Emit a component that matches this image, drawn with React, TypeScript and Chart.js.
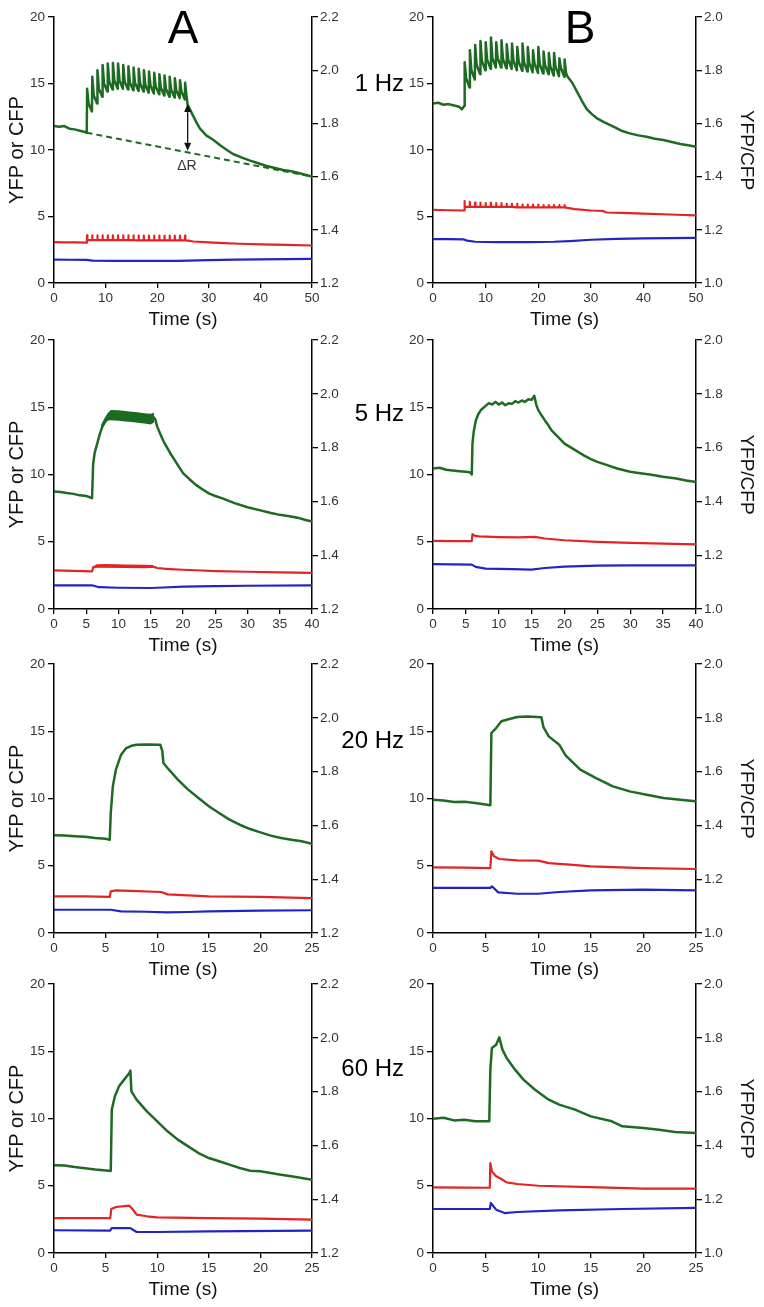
import React, { useEffect, useRef } from "react";
import { Chart, registerables } from "chart.js";

Chart.register(...registerables);

type Pt = [number, number];

// ---------- tick labels ----------
const X_TICKS_50 = [0, 10, 20, 30, 40, 50];
const X_TICKS_40 = [0, 5, 10, 15, 20, 25, 30, 35, 40];
const X_TICKS_25 = [0, 5, 10, 15, 20, 25];
const LEFT_TICKS = [0, 5, 10, 15, 20];
const RATIO_TICKS_A = [1.2, 1.4, 1.6, 1.8, 2.0, 2.2];
const RATIO_TICKS_B = [1.0, 1.2, 1.4, 1.6, 1.8, 2.0];
const FREQ_LABELS = ["1 Hz", "5 Hz", "20 Hz", "60 Hz"];
const COLUMN_LETTERS = ["A", "B"];

// ---------- data: green = YFP/CFP ratio (right axis), red = YFP, blue = CFP (left axis) ----------
// Row 1 (1 Hz)
const A1_GREEN: Pt[] = [
  [0, 1.79], [1, 1.7875], [2, 1.79], [3, 1.78], [4, 1.7775], [5, 1.7725], [6, 1.7675], [6.35, 1.765],
  [6.42, 1.93], [6.7, 1.875], [7.35, 1.845],
  [7.42, 1.975], [7.7, 1.905], [8.35, 1.875],
  [8.42, 2.0], [8.7, 1.93], [9.35, 1.9],
  [9.42, 2.02], [9.7, 1.95], [10.35, 1.92],
  [10.42, 2.025], [10.7, 1.9575], [11.35, 1.9275],
  [11.42, 2.0275], [11.7, 1.96], [12.35, 1.93],
  [12.42, 2.025], [12.7, 1.96], [13.35, 1.93],
  [13.42, 2.02], [13.7, 1.9575], [14.35, 1.9275],
  [14.42, 2.015], [14.7, 1.955], [15.35, 1.925],
  [15.42, 2.01], [15.7, 1.9525], [16.35, 1.9225],
  [16.42, 2.005], [16.7, 1.95], [17.35, 1.92],
  [17.42, 2.0], [17.7, 1.945], [18.35, 1.915],
  [18.42, 1.995], [18.7, 1.9425], [19.35, 1.9125],
  [19.42, 1.99], [19.7, 1.94], [20.35, 1.91],
  [20.42, 1.985], [20.7, 1.935], [21.35, 1.905],
  [21.42, 1.98], [21.7, 1.93], [22.35, 1.9],
  [22.42, 1.975], [22.7, 1.9275], [23.35, 1.8975],
  [23.42, 1.97], [23.7, 1.925], [24.35, 1.895],
  [24.42, 1.9625], [24.7, 1.92], [25.35, 1.89],
  [25.42, 1.9525], [25.7, 1.9],
  [25.9, 1.87], [26.8, 1.835], [27.7, 1.8], [28.3, 1.78], [29.5, 1.755], [30.9, 1.7375], [32.2, 1.7175],
  [33.5, 1.7], [34.7, 1.685], [36.3, 1.6725], [38, 1.66], [39.6, 1.65], [41.2, 1.64], [42.8, 1.6325],
  [44.4, 1.625], [46, 1.62], [47.6, 1.6125], [49, 1.605], [50, 1.6],
];
const A1_RED: Pt[] = [
  [0, 3.08], [2, 3.06], [4, 3.05], [6.3, 3.03],
  [6.38, 3.22], [6.4, 3.58], [6.46, 3.22], [7.38, 3.22], [7.4, 3.58], [7.46, 3.22],
  [8.38, 3.22], [8.4, 3.58], [8.46, 3.22], [9.38, 3.22], [9.4, 3.58], [9.46, 3.22],
  [10.38, 3.22], [10.4, 3.58], [10.46, 3.22], [11.38, 3.22], [11.4, 3.58], [11.46, 3.22],
  [12.38, 3.22], [12.4, 3.58], [12.46, 3.22], [13.38, 3.22], [13.4, 3.58], [13.46, 3.22],
  [14.38, 3.22], [14.4, 3.58], [14.46, 3.22], [15.38, 3.22], [15.4, 3.58], [15.46, 3.22],
  [16.38, 3.2], [16.4, 3.56], [16.46, 3.2], [17.38, 3.2], [17.4, 3.56], [17.46, 3.2],
  [18.38, 3.2], [18.4, 3.56], [18.46, 3.2], [19.38, 3.2], [19.4, 3.56], [19.46, 3.2],
  [20.38, 3.2], [20.4, 3.56], [20.46, 3.2], [21.38, 3.2], [21.4, 3.56], [21.46, 3.2],
  [22.38, 3.2], [22.4, 3.56], [22.46, 3.2], [23.38, 3.2], [23.4, 3.56], [23.46, 3.2],
  [24.38, 3.2], [24.4, 3.56], [24.46, 3.2], [25.38, 3.2], [25.4, 3.56], [25.46, 3.2],
  [26, 3.18], [27, 3.12], [30, 3.05], [33, 3.0], [36, 2.95], [40, 2.9], [45, 2.87], [50, 2.82],
];
const A1_BLUE: Pt[] = [
  [0, 1.76], [3, 1.75], [6.3, 1.74], [7.5, 1.68], [12, 1.66], [18, 1.66], [24, 1.67], [26, 1.68],
  [30, 1.72], [35, 1.76], [40, 1.78], [45, 1.8], [50, 1.82],
];
const B1_GREEN: Pt[] = [
  [0, 1.675], [1, 1.6775], [2, 1.67], [3, 1.6725], [4, 1.6675], [5, 1.6625], [5.5, 1.6525], [5.9, 1.665],
  [6.02, 1.83], [6.3, 1.77], [6.95, 1.735],
  [7.02, 1.875], [7.3, 1.8], [7.95, 1.765],
  [8.02, 1.895], [8.3, 1.82], [8.95, 1.785],
  [9.02, 1.91], [9.3, 1.835], [9.95, 1.8],
  [10.02, 1.905], [10.3, 1.84], [10.95, 1.805],
  [11.02, 1.9225], [11.3, 1.845], [11.95, 1.81],
  [12.02, 1.905], [12.3, 1.845], [12.95, 1.81],
  [13.02, 1.9125], [13.3, 1.8425], [13.95, 1.8075],
  [14.02, 1.8975], [14.3, 1.84], [14.95, 1.805],
  [15.02, 1.9], [15.3, 1.835], [15.95, 1.8],
  [16.02, 1.8875], [16.3, 1.8325], [16.95, 1.7975],
  [17.02, 1.9], [17.3, 1.83], [17.95, 1.795],
  [18.02, 1.8875], [18.3, 1.8275], [18.95, 1.7925],
  [19.02, 1.875], [19.3, 1.825], [19.95, 1.79],
  [20.02, 1.8875], [20.3, 1.8225], [20.95, 1.7875],
  [21.02, 1.87], [21.3, 1.82], [21.95, 1.785],
  [22.02, 1.865], [22.3, 1.815], [22.95, 1.78],
  [23.02, 1.865], [23.3, 1.8125], [23.95, 1.7775],
  [24.02, 1.845], [24.3, 1.81], [24.95, 1.775],
  [25.02, 1.84], [25.3, 1.79],
  [25.6, 1.775], [26.5, 1.752], [27.5, 1.715], [28.3, 1.685], [29.2, 1.655], [30.2, 1.635], [31.1, 1.62],
  [32.5, 1.605], [34.3, 1.5875], [35.8, 1.5725], [37.4, 1.5625], [39, 1.555], [40.6, 1.55], [42.2, 1.5425],
  [43.8, 1.5375], [45.4, 1.53], [47, 1.5225], [48.5, 1.5175], [50, 1.5125],
];
const B1_RED: Pt[] = [
  [0, 5.5], [3, 5.47], [5.9, 5.45],
  [5.98, 5.72], [6.0, 6.15], [6.06, 5.72], [6.98, 5.72], [7.0, 6.1], [7.06, 5.72],
  [7.98, 5.72], [8.0, 6.05], [8.06, 5.72], [8.98, 5.72], [9.0, 6.05], [9.06, 5.72],
  [9.98, 5.72], [10.0, 6.0], [10.06, 5.72], [10.98, 5.72], [11.0, 6.05], [11.06, 5.72],
  [11.98, 5.72], [12.0, 6.0], [12.06, 5.72], [12.98, 5.72], [13.0, 6.0], [13.06, 5.72],
  [13.98, 5.72], [14.0, 5.95], [14.06, 5.72], [14.98, 5.72], [15.0, 5.95], [15.06, 5.72],
  [15.98, 5.68], [16.0, 5.95], [16.06, 5.68], [16.98, 5.68], [17.0, 5.9], [17.06, 5.68],
  [17.98, 5.68], [18.0, 5.9], [18.06, 5.68], [18.98, 5.68], [19.0, 5.9], [19.06, 5.68],
  [19.98, 5.68], [20.0, 5.9], [20.06, 5.68], [20.98, 5.68], [21.0, 5.85], [21.06, 5.68],
  [21.98, 5.68], [22.0, 5.85], [22.06, 5.68], [22.98, 5.68], [23.0, 5.85], [23.06, 5.68],
  [23.98, 5.68], [24.0, 5.85], [24.06, 5.68], [24.98, 5.68], [25.0, 5.85], [25.06, 5.68],
  [25.5, 5.65], [27, 5.55], [30, 5.45], [32.3, 5.42], [33, 5.3], [36, 5.27], [40, 5.22], [45, 5.15], [50, 5.08],
];
const B1_BLUE: Pt[] = [
  [0, 3.3], [3, 3.3], [5.8, 3.28], [6.5, 3.18], [8, 3.1], [12, 3.08], [18, 3.08], [23, 3.1], [26, 3.15],
  [30, 3.25], [35, 3.32], [40, 3.35], [45, 3.38], [50, 3.4],
];

// Row 2 (5 Hz)
const A2_GREEN: Pt[] = [
  [0, 1.637], [1, 1.635], [2, 1.631], [3, 1.628], [4, 1.6225], [5, 1.62], [5.9, 1.612],
  [6.07, 1.74], [6.3, 1.78], [6.7, 1.815], [7.1, 1.85], [7.5, 1.878], [8.0, 1.9], [8.5, 1.918],
  [9, 1.921], [10, 1.919], [11, 1.916], [12, 1.914], [13, 1.911], [14, 1.909], [15, 1.906], [15.5, 1.912],
  [15.7, 1.905], [16, 1.878], [16.5, 1.85], [17, 1.8225], [18, 1.78], [19, 1.742], [20, 1.705],
  [21, 1.6825], [22, 1.6615], [23, 1.645], [24, 1.63], [25, 1.62], [26, 1.612], [28, 1.5935],
  [30, 1.5785], [32, 1.5665], [33.5, 1.5575], [35, 1.55], [36.5, 1.545], [38, 1.538], [39, 1.531], [40, 1.525],
];
// noisy band during 5 Hz stimulation (upper / lower edges)
const A2_GREEN_BAND_TOP: Pt[] = [
  [7.3, 1.885], [7.8, 1.908], [8.3, 1.928], [8.8, 1.94], [10, 1.9385], [11, 1.936], [12, 1.933],
  [13, 1.931], [14, 1.928], [15, 1.926], [15.5, 1.93],
];
const A2_GREEN_BAND_BOTTOM: Pt[] = [
  [7.3, 1.862], [7.8, 1.885], [8.3, 1.9], [8.8, 1.902], [10, 1.9], [11, 1.897], [12, 1.895],
  [13, 1.892], [14, 1.89], [15, 1.886], [15.5, 1.893],
];
const A2_RED: Pt[] = [
  [0, 2.87], [3, 2.84], [5.9, 2.8], [6.1, 3.12], [7, 3.2], [10, 3.18], [13, 3.16], [15.4, 3.15],
  [16, 3.05], [17, 3.0], [18, 2.97], [20, 2.92], [22, 2.88], [25, 2.82], [30, 2.77], [35, 2.72], [40, 2.68],
];
const A2_RED_BAND_TOP: Pt[] = [[6.1, 3.16], [6.6, 3.33], [8, 3.34], [11, 3.31], [14, 3.29], [15.4, 3.28]];
const A2_RED_BAND_BOTTOM: Pt[] = [[6.1, 3.05], [6.6, 3.06], [8, 3.07], [11, 3.05], [14, 3.03], [15.4, 3.05]];
const A2_BLUE: Pt[] = [
  [0, 1.76], [3, 1.76], [6, 1.75], [7, 1.62], [10, 1.58], [15, 1.56], [17, 1.6], [20, 1.66],
  [25, 1.7], [30, 1.73], [40, 1.75],
];
const B2_GREEN: Pt[] = [
  [0, 1.5225], [1, 1.525], [2, 1.5175], [3, 1.515], [4, 1.5125], [5, 1.51], [5.7, 1.5075], [5.9, 1.5],
  [6.0, 1.615], [6.2, 1.66], [6.5, 1.7], [6.9, 1.725], [7.3, 1.74], [8, 1.755], [8.5, 1.765],
  [9, 1.76], [9.5, 1.77], [10, 1.76], [10.5, 1.7675], [11, 1.7575], [11.5, 1.765], [12, 1.7625],
  [12.5, 1.7725], [13, 1.7675], [13.5, 1.775], [14, 1.77], [14.5, 1.78], [15, 1.7775], [15.4, 1.7925],
  [15.7, 1.76], [16, 1.74], [16.5, 1.72], [17, 1.702], [17.5, 1.685], [18, 1.665], [19, 1.64],
  [20, 1.615], [21, 1.6], [22, 1.585], [23, 1.57], [24, 1.5575], [25, 1.547], [26.5, 1.535],
  [28, 1.5225], [30, 1.51], [31.5, 1.505], [33, 1.5], [35, 1.4915], [37, 1.485], [38.5, 1.4775], [40, 1.4725],
];
const B2_RED: Pt[] = [
  [0, 5.06], [3, 5.05], [5.9, 5.04], [6.0, 5.56], [6.3, 5.45], [7, 5.4], [10, 5.35], [13, 5.32],
  [15.5, 5.36], [17, 5.24], [20, 5.11], [25, 4.99], [30, 4.91], [35, 4.86], [40, 4.81],
];
const B2_BLUE: Pt[] = [
  [0, 3.33], [3, 3.32], [5.9, 3.3], [6.5, 3.13], [8, 3.0], [12, 2.97], [15, 2.93], [17, 3.05],
  [20, 3.15], [25, 3.22], [30, 3.25], [40, 3.25],
];

// Row 3 (20 Hz)
const A3_GREEN: Pt[] = [
  [0, 1.563], [1, 1.562], [2, 1.5595], [3, 1.5575], [4, 1.553], [5, 1.55], [5.4, 1.547],
  [5.5, 1.646], [5.7, 1.745], [6.0, 1.807], [6.5, 1.863], [7, 1.8875], [7.5, 1.896], [8, 1.9],
  [9, 1.901], [10.3, 1.9], [10.5, 1.875], [10.6, 1.832], [11, 1.8135], [12, 1.77], [13, 1.733],
  [14, 1.702], [15, 1.671], [16, 1.646], [17, 1.6215], [18, 1.6025], [19, 1.5865], [20, 1.574],
  [21, 1.562], [22, 1.553], [23, 1.547], [24, 1.541], [25, 1.532],
];
const A3_RED: Pt[] = [
  [0, 2.73], [3, 2.72], [5.4, 2.68], [5.5, 3.1], [6, 3.17], [8, 3.12], [10.4, 3.05], [11, 2.87],
  [13, 2.8], [15, 2.73], [20, 2.68], [25, 2.6],
];
const A3_BLUE: Pt[] = [
  [0, 1.73], [5.5, 1.73], [6.5, 1.61], [9, 1.58], [11, 1.54], [13, 1.56], [15, 1.61], [20, 1.66], [25, 1.69],
];
const B3_GREEN: Pt[] = [
  [0, 1.4955], [1, 1.4925], [2, 1.487], [3, 1.4875], [4, 1.4835], [5, 1.4775], [5.45, 1.4745],
  [5.55, 1.7435], [6, 1.762], [6.5, 1.787], [7, 1.793], [8, 1.803], [9, 1.805], [10.3, 1.8025],
  [10.5, 1.765], [11, 1.731], [12, 1.7], [12.6, 1.66], [14, 1.607], [15.5, 1.576], [17.1, 1.545],
  [18.7, 1.5265], [20.3, 1.514], [21.9, 1.502], [23.5, 1.4955], [25, 1.4895],
];
const B3_RED: Pt[] = [
  [0, 4.88], [3, 4.86], [5.45, 4.83], [5.55, 6.07], [5.8, 5.7], [6.3, 5.5], [8, 5.4], [10, 5.38],
  [11, 5.2], [13, 5.08], [15, 4.96], [20, 4.83], [25, 4.76],
];
const B3_BLUE: Pt[] = [
  [0, 3.35], [5.45, 3.35], [5.6, 3.47], [6.2, 3.02], [8, 2.92], [10, 2.92], [12, 3.05], [15, 3.17],
  [20, 3.22], [25, 3.17],
];

// Row 4 (60 Hz)
const A4_GREEN: Pt[] = [
  [0, 1.526], [1, 1.525], [2, 1.5195], [3, 1.515], [4, 1.51], [5.3, 1.506], [5.5, 1.505],
  [5.6, 1.733], [5.9, 1.7825], [6.3, 1.8195], [6.8, 1.8445], [7.3, 1.869], [7.4, 1.878],
  [7.5, 1.801], [8, 1.77], [9, 1.7265], [10, 1.6895], [11, 1.6525], [12, 1.6215], [13, 1.5965],
  [14, 1.5715], [15, 1.553], [16, 1.541], [17, 1.5285], [18, 1.516], [19, 1.506], [20, 1.5035],
  [21, 1.4975], [22, 1.491], [23, 1.485], [24, 1.479], [25, 1.4725],
];
const A4_RED: Pt[] = [
  [0, 2.6], [3, 2.6], [5.45, 2.6], [5.55, 3.27], [6, 3.42], [7.3, 3.52], [7.6, 3.27], [8, 2.85],
  [9, 2.73], [10, 2.65], [15, 2.6], [20, 2.55], [25, 2.48],
];
const A4_BLUE: Pt[] = [
  [0, 1.69], [5.45, 1.67], [5.6, 1.86], [7.4, 1.85], [8, 1.56], [10, 1.56], [15, 1.61], [25, 1.66],
];
const B4_GREEN: Pt[] = [
  [0, 1.4995], [1, 1.5025], [2, 1.493], [3, 1.495], [4, 1.4895], [5.35, 1.4895], [5.45, 1.6815],
  [5.6, 1.762], [6, 1.7745], [6.3, 1.8015], [6.6, 1.756], [7, 1.725], [7.8, 1.6815], [8.6, 1.6445],
  [9.7, 1.607], [11, 1.57], [12, 1.5515], [13.5, 1.533], [15, 1.508], [17, 1.4895], [18, 1.471],
  [20, 1.4645], [21.5, 1.4585], [23, 1.45], [25, 1.446],
];
const B4_RED: Pt[] = [
  [0, 4.88], [3, 4.86], [5.4, 4.85], [5.45, 6.69], [5.6, 6.07], [6, 5.7], [6.5, 5.5], [7, 5.25],
  [8, 5.13], [10, 5.0], [15, 4.9], [20, 4.78], [25, 4.78],
];
const B4_BLUE: Pt[] = [
  [0, 3.27], [5.4, 3.27], [5.5, 3.72], [6, 3.22], [6.8, 2.97], [8, 3.05], [12, 3.17], [18, 3.27], [25, 3.35],
];

// ΔR annotation (panel A, 1 Hz) in data units
const DR_BASELINE: Pt[] = [[6.3, 1.765], [50, 1.6]];
const DR_ARROW_T = 25.9;
const DR_ARROW_TOP = 1.8725;
const DR_ARROW_BOTTOM = 1.6975;
const DR_LABEL_T = 25.75;
const DR_LABEL_R = 1.6375;
const DR_LABEL_TEXT = "\u0394R";

// ---------- styling / layout ----------
const FONT = "'Liberation Sans', Arial, Helvetica, sans-serif";
const GREEN = "#1d6b22";
const RED = "#e32424";
const BLUE = "#2323c8";
const AXIS = "#000";
const TICK_COLOR = "#333";
const ROW_TOP = [17, 340, 664, 984];
const ROW_BOTTOM = [283, 609, 933, 1253];
const PAD_TOP = 12;
const X_AXIS_H = 50;

interface Band {
  top: Pt[];
  bottom: Pt[];
  color: string;
  axis: string;
}

interface PanelProps {
  left: number;
  canvasWidth: number;
  leftAxisW: number;
  rightAxisW: number;
  row: number;
  xMax: number;
  xTicks: number[];
  ratioMin: number;
  ratioMax: number;
  ratioTicks: number[];
  green: Pt[];
  red: Pt[];
  blue: Pt[];
  bands?: Band[];
  leftTitle: boolean;
  rightTitle: boolean;
  annotate?: boolean;
}

const toXY = (arr: Pt[]) => arr.map(([x, y]) => ({ x, y }));

const deltaRPlugin = {
  id: "deltaR",
  afterDatasetsDraw(chart: any) {
    const { ctx } = chart;
    const xs = chart.scales.x;
    const ys = chart.scales.y1;
    const px = xs.getPixelForValue(DR_ARROW_T);
    const pTop = ys.getPixelForValue(DR_ARROW_TOP);
    const pBot = ys.getPixelForValue(DR_ARROW_BOTTOM);
    const head = 8;
    const half = 3.5;
    ctx.save();
    ctx.strokeStyle = "#111";
    ctx.fillStyle = "#111";
    ctx.lineWidth = 1.3;
    ctx.beginPath();
    ctx.moveTo(px, pTop + head);
    ctx.lineTo(px, pBot - head);
    ctx.stroke();
    ctx.beginPath();
    ctx.moveTo(px, pTop);
    ctx.lineTo(px - half, pTop + head);
    ctx.lineTo(px + half, pTop + head);
    ctx.closePath();
    ctx.fill();
    ctx.beginPath();
    ctx.moveTo(px, pBot);
    ctx.lineTo(px - half, pBot - head);
    ctx.lineTo(px + half, pBot - head);
    ctx.closePath();
    ctx.fill();
    ctx.font = `14px ${FONT}`;
    ctx.textAlign = "center";
    ctx.textBaseline = "middle";
    ctx.fillStyle = "#333";
    ctx.fillText(DR_LABEL_TEXT, xs.getPixelForValue(DR_LABEL_T), ys.getPixelForValue(DR_LABEL_R));
    ctx.restore();
  },
};

function Panel(p: PanelProps) {
  const ref = useRef<HTMLCanvasElement>(null);
  const top = ROW_TOP[p.row] - PAD_TOP;
  const height = ROW_BOTTOM[p.row] - ROW_TOP[p.row] + PAD_TOP + X_AXIS_H;

  useEffect(() => {
    if (!ref.current) return;
    const tickFont = { family: FONT, size: 13.5 };
    const titleFont = { family: FONT, size: 19 };
    const yTitleFont = { family: FONT, size: 20 };
    const grid = { drawOnChartArea: false, drawTicks: true, tickLength: 6, color: AXIS, lineWidth: 1.3 };
    const border = { display: true, color: AXIS, width: 1.5 };

    const datasets: any[] = [];
    (p.bands || []).forEach((b) => {
      datasets.push({
        data: toXY(b.top),
        yAxisID: b.axis,
        borderWidth: 0,
        borderColor: b.color,
        pointRadius: 0,
        fill: false,
      });
      datasets.push({
        data: toXY(b.bottom),
        yAxisID: b.axis,
        borderWidth: 0,
        borderColor: b.color,
        backgroundColor: b.color,
        pointRadius: 0,
        fill: "-1",
      });
    });
    if (p.annotate) {
      datasets.push({
        data: toXY(DR_BASELINE),
        yAxisID: "y1",
        borderColor: GREEN,
        borderWidth: 2,
        borderDash: [6, 4],
        pointRadius: 0,
      });
    }
    datasets.push(
      { data: toXY(p.blue), yAxisID: "y", borderColor: BLUE, borderWidth: 2.2, pointRadius: 0 },
      { data: toXY(p.red), yAxisID: "y", borderColor: RED, borderWidth: 2.2, pointRadius: 0 },
      { data: toXY(p.green), yAxisID: "y1", borderColor: GREEN, borderWidth: 2.5, pointRadius: 0 }
    );

    const chart = new Chart(ref.current, {
      type: "line",
      data: { datasets },
      plugins: p.annotate ? [deltaRPlugin as any] : [],
      options: {
        animation: false,
        responsive: false,
        events: [],
        layout: { padding: { top: PAD_TOP, left: 0, right: 0, bottom: 0 } },
        elements: { line: { tension: 0, borderJoinStyle: "round" } },
        plugins: { legend: { display: false }, tooltip: { enabled: false } },
        scales: {
          x: {
            type: "linear",
            min: 0,
            max: p.xMax,
            afterBuildTicks: (a: any) => {
              a.ticks = p.xTicks.map((v) => ({ value: v }));
            },
            afterFit: (s: any) => {
              s.height = X_AXIS_H;
            },
            grid: { ...grid, tickLength: 5 },
            border,
            ticks: {
              font: tickFont,
              color: TICK_COLOR,
              padding: 2,
              maxRotation: 0,
              autoSkip: false,
              callback: (v: any) => String(v),
            },
            title: {
              display: true,
              text: "Time (s)",
              font: titleFont,
              color: "#111",
              padding: { top: 0, bottom: 2 },
            },
          },
          y: {
            type: "linear",
            position: "left",
            min: 0,
            max: 20,
            afterBuildTicks: (a: any) => {
              a.ticks = LEFT_TICKS.map((v) => ({ value: v }));
            },
            afterFit: (s: any) => {
              s.width = p.leftAxisW;
            },
            grid,
            border,
            ticks: { font: tickFont, color: TICK_COLOR, padding: 3, autoSkip: false, callback: (v: any) => String(v) },
            title: {
              display: p.leftTitle,
              text: "YFP or CFP",
              font: yTitleFont,
              color: "#111",
              padding: { top: 5, bottom: 0 },
            },
          },
          y1: {
            type: "linear",
            position: "right",
            min: p.ratioMin,
            max: p.ratioMax,
            afterBuildTicks: (a: any) => {
              a.ticks = p.ratioTicks.map((v) => ({ value: v }));
            },
            afterFit: (s: any) => {
              s.width = p.rightAxisW;
            },
            grid,
            border,
            ticks: {
              font: tickFont,
              color: TICK_COLOR,
              padding: 2,
              autoSkip: false,
              callback: (v: any) => Number(v).toFixed(1),
            },
            title: {
              display: p.rightTitle,
              text: "YFP/CFP",
              font: titleFont,
              color: "#111",
              padding: { top: 6, bottom: 0 },
            },
          },
        },
      } as any,
    });
    return () => chart.destroy();
  }, []);

  return (
    <canvas
      ref={ref}
      width={p.canvasWidth}
      height={height}
      style={{ position: "absolute", left: p.left, top, width: p.canvasWidth, height }}
    />
  );
}

const ROWS = [
  { xMax: 50, xTicks: X_TICKS_50, a: [A1_GREEN, A1_RED, A1_BLUE], b: [B1_GREEN, B1_RED, B1_BLUE], aBands: [] as Band[] },
  {
    xMax: 40,
    xTicks: X_TICKS_40,
    a: [A2_GREEN, A2_RED, A2_BLUE],
    b: [B2_GREEN, B2_RED, B2_BLUE],
    aBands: [
      { top: A2_GREEN_BAND_TOP, bottom: A2_GREEN_BAND_BOTTOM, color: GREEN, axis: "y1" },
      { top: A2_RED_BAND_TOP, bottom: A2_RED_BAND_BOTTOM, color: RED, axis: "y" },
    ] as Band[],
  },
  { xMax: 25, xTicks: X_TICKS_25, a: [A3_GREEN, A3_RED, A3_BLUE], b: [B3_GREEN, B3_RED, B3_BLUE], aBands: [] as Band[] },
  { xMax: 25, xTicks: X_TICKS_25, a: [A4_GREEN, A4_RED, A4_BLUE], b: [B4_GREEN, B4_RED, B4_BLUE], aBands: [] as Band[] },
];

const FREQ_Y = [83, 413, 740, 1068];
const LETTER_X = [183, 580];

export default function App() {
  return (
    <div
      style={{
        position: "absolute",
        left: 0,
        top: 0,
        width: 764,
        height: 1307,
        background: "#fff",
        overflow: "hidden",
        fontFamily: FONT,
      }}
    >
      {ROWS.map((r, i) => (
        <React.Fragment key={i}>
          <Panel
            left={0}
            canvasWidth={345}
            leftAxisW={54}
            rightAxisW={33}
            row={i}
            xMax={r.xMax}
            xTicks={r.xTicks}
            ratioMin={1.2}
            ratioMax={2.2}
            ratioTicks={RATIO_TICKS_A}
            green={r.a[0]}
            red={r.a[1]}
            blue={r.a[2]}
            bands={r.aBands}
            leftTitle={true}
            rightTitle={false}
            annotate={i === 0}
          />
          <Panel
            left={385}
            canvasWidth={379}
            leftAxisW={48}
            rightAxisW={68}
            row={i}
            xMax={r.xMax}
            xTicks={r.xTicks}
            ratioMin={1.0}
            ratioMax={2.0}
            ratioTicks={RATIO_TICKS_B}
            green={r.b[0]}
            red={r.b[1]}
            blue={r.b[2]}
            leftTitle={false}
            rightTitle={true}
          />
        </React.Fragment>
      ))}
      {COLUMN_LETTERS.map((l, i) => (
        <div
          key={l}
          style={{
            position: "absolute",
            left: LETTER_X[i],
            top: 27,
            transform: "translate(-50%, -50%)",
            fontSize: 46,
            lineHeight: 1,
            color: "#000",
          }}
        >
          {l}
        </div>
      ))}
      {FREQ_LABELS.map((f, i) => (
        <div
          key={f}
          style={{
            position: "absolute",
            left: 404,
            top: FREQ_Y[i],
            transform: "translate(-100%, -50%)",
            fontSize: 24,
            lineHeight: 1,
            color: "#000",
            whiteSpace: "nowrap",
          }}
        >
          {f}
        </div>
      ))}
    </div>
  );
}
